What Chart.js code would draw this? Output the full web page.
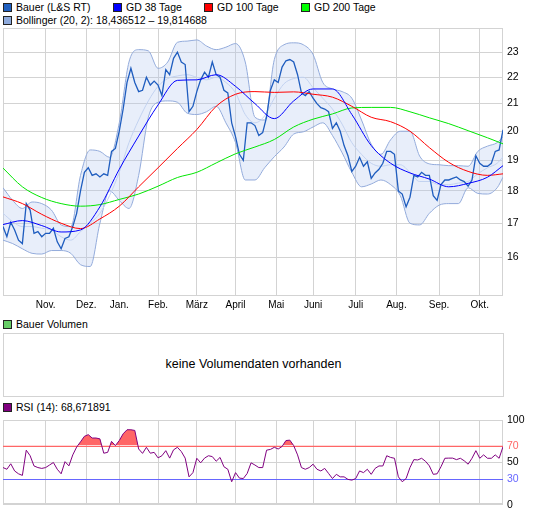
<!DOCTYPE html>
<html>
<head>
<meta charset="utf-8">
<script src="https://cdn.jsdelivr.net/npm/chart.js@4/dist/chart.umd.min.js"></script>
<style>
  body { margin: 0; background: #fff; font-family: "Liberation Sans", Arial, sans-serif; }
  #wrap { position: relative; width: 545px; height: 515px; overflow: hidden; }
  canvas { position: absolute; left: 0; }
  .lg { position: absolute; font-size: 10.5px; line-height: 12px; color: #000; white-space: nowrap; }
  .lg i { display: inline-block; width: 7px; height: 7px; border: 1px solid #222; margin-right: 4px; vertical-align: -1px; }
  #vol { position: absolute; left: 3px; top: 333px; width: 501px; height: 64px; box-sizing: border-box;
         border: 1px solid #d3d3d3; text-align: center; line-height: 60px; font-size: 12.5px; }
</style>
</head>
<body>
<div id="wrap">
  <div class="lg" style="left:3px;top:1px"><i style="background:#2060c0"></i>Bauer (L&amp;S RT)</div>
  <div class="lg" style="left:113px;top:1px"><i style="background:#0000ff"></i>GD 38 Tage</div>
  <div class="lg" style="left:204px;top:1px"><i style="background:#ff0000"></i>GD 100 Tage</div>
  <div class="lg" style="left:301px;top:1px"><i style="background:#00ff00"></i>GD 200 Tage</div>
  <div class="lg" style="left:3px;top:14px"><i style="background:#8eaadc"></i>Bollinger (20, 2): 18,436512 – 19,814688</div>
  <canvas id="kurs" width="545" height="315" style="top:0"></canvas>
  <div class="lg" style="left:3px;top:318px"><i style="background:#66cc66"></i>Bauer Volumen</div>
  <div id="vol">keine Volumendaten vorhanden</div>
  <div class="lg" style="left:3px;top:401px"><i style="background:#800080"></i>RSI (14): 68,671891</div>
  <canvas id="rsi" width="545" height="105" style="top:410px"></canvas>
</div>
<script>
// closing prices, one value every second trading day
const closeStep = 2;
const closes = [
  16.9, 16.6, 17.03, 16.8, 16.5, 16.4, 17.6, 17.4, 16.7, 16.75,
  16.6, 16.7, 16.7, 16.85, 16.45, 16.25, 16.55, 16.6, 16.9, 17.3,
  18.0, 18.6, 18.75, 18.5, 18.55, 18.45, 18.55, 18.5, 19.3, 19.4,
  20.0, 20.8, 21.8, 22.35, 21.8, 21.45, 21.5, 22.0, 21.7, 21.85,
  21.7, 21.3, 22.3, 22.1, 22.75, 23.0, 22.6, 22.5, 20.7, 20.9,
  21.45, 21.9, 22.2, 22.0, 22.6, 22.1, 22.0, 21.5, 21.4, 20.3,
  19.8, 19.2, 19.0, 20.3, 20.3, 20.2, 19.85, 19.95, 20.5, 21.5,
  21.9, 21.8, 22.4, 22.65, 22.7, 22.6, 22.1, 21.4, 21.3, 21.45,
  21.2, 21.0, 20.85, 20.8, 20.7, 20.1, 20.3, 20.0, 19.5, 19.15,
  18.63, 18.8, 19.1, 18.8, 18.95, 18.4, 18.58, 18.7, 18.9, 19.3,
  19.3, 19.2, 18.0, 17.9, 17.5, 17.8, 18.5, 18.45, 18.6, 18.5,
  18.5, 17.85, 17.7, 18.2, 18.35, 18.35, 18.4, 18.45, 18.35, 18.3,
  18.15, 18.35, 19.15, 18.9, 18.8, 18.8, 18.9, 19.3, 19.35, 20.05
];
const rsiValues = [
  44, 42, 48.5, 40, 36.6, 34.7, 64.6, 58, 45.9, 44,
  43, 44, 47, 50, 42, 36.6, 51, 46, 59, 68.3,
  74.5, 81, 83, 79, 79, 78, 61, 62, 75, 70,
  76, 84, 88.8, 88.8, 88, 66, 60.8, 68, 61, 62,
  55.5, 58, 64, 55.2, 65, 68, 63, 55.2, 33, 38,
  55, 49.6, 55.2, 58, 57, 51.5, 56, 45, 42, 27.2,
  38, 31.5, 31, 37, 49.6, 47, 44, 44, 64.6, 65.5,
  68, 66, 69, 76, 76.5, 70, 59, 44, 42, 44,
  48, 42, 40, 43, 37, 31, 36, 33, 33, 30,
  29.1, 31, 40, 38, 42, 36, 43, 45.9, 45.9, 58,
  56, 55, 33, 27.2, 31, 44, 53.4, 53, 55, 51.5,
  46, 36, 36.6, 45, 55, 55.2, 55.2, 53.4, 55, 52,
  48, 55, 64, 55, 59, 55, 55, 59, 55, 68.67
];

// moving averages
const maDays = [0, 10, 20, 30, 40, 50, 60, 70, 80, 90, 100, 110, 120, 130, 140, 150, 160, 170, 180, 190, 200, 210, 220, 230, 240, 250, 258];
const gd38 = [16.96, 17.08, 16.93, 16.74, 16.8, 17.5, 18.7, 19.83, 20.95, 21.88, 21.9, 22.1, 21.65, 21.0, 20.45, 21.1, 21.55, 21.55, 20.6, 19.5, 18.9, 18.58, 18.38, 18.13, 18.24, 18.44, 18.82];
const gd100 = [17.81, 17.6, 17.27, 17.0, 16.84, 17.13, 17.52, 18.13, 18.75, 19.4, 20.06, 20.9, 21.35, 21.45, 21.42, 21.44, 21.35, 21.24, 20.9, 20.5, 20.34, 20.0, 19.43, 18.93, 18.63, 18.5, 18.55];
const gd200 = [18.74, 18.13, 17.79, 17.6, 17.52, 17.57, 17.73, 17.9, 18.15, 18.43, 18.6, 18.91, 19.22, 19.45, 19.71, 20.15, 20.43, 20.62, 20.84, 20.86, 20.86, 20.7, 20.48, 20.27, 20.02, 19.77, 19.56];

// Bollinger (20, 2)
const bbDays = [0, 5, 10, 15, 20, 25, 30, 35, 40, 45, 50, 55, 60, 65, 70, 75, 80, 85, 90, 95, 100, 105, 110, 115, 120, 125, 130, 135, 140, 145, 150, 155, 160, 165, 170, 175, 180, 185, 190, 195, 200, 205, 210, 215, 220, 225, 230, 235, 240, 245, 250, 255, 258];
const bbUpper = [
  18.1, 17.7, 17.45, 17.65, 17.6, 17.4, 16.95, 16.9, 18.5, 19.35,
  19.3, 19.1, 20.3, 22.6, 23.1, 23.05, 22.35, 22.6, 23.4, 23.45,
  23.5, 23.25, 23.1, 23.2, 23.35, 22.6, 20.5, 20.4, 22.7, 23.3,
  23.38, 23.3, 22.9, 21.8, 21.55, 21.45, 21.2, 20.4, 19.55, 19.2,
  19.7, 20.0, 20.0, 19.14, 18.88, 18.85, 18.82, 18.82, 18.8, 19.3,
  19.48, 19.6, 19.81
];
const bbMiddle = [
  17.3, 17.05, 16.9, 16.9, 16.85, 16.8, 16.6, 16.5, 16.75, 17.0,
  17.3, 17.85, 18.6, 19.6, 20.4, 21.1, 21.65, 21.95, 22.05, 22.1,
  22.0, 21.9, 22.0, 21.8, 21.4, 20.6, 20.3, 20.55, 21.2, 21.75,
  21.95, 22.0, 21.6, 21.2, 20.8, 20.25, 19.6, 19.2, 18.9, 18.8,
  18.85, 18.85, 18.6, 18.3, 18.3, 18.2, 18.2, 18.25, 18.3, 18.55,
  18.75, 18.9, 19.12
];
const bbLower = [
  16.5, 16.4, 16.25, 16.12, 16.1, 16.2, 16.2, 16.12, 15.8, 15.75,
  17.0, 18.0, 17.7, 17.45, 18.5, 20.5, 21.05, 21.1, 21.05, 20.65,
  20.6, 20.7, 20.9, 20.3, 19.6, 18.35, 18.35, 18.75, 19.12, 19.45,
  19.9, 19.98, 20.15, 20.3, 19.85, 19.25, 18.6, 18.13, 18.22, 18.35,
  18.2, 17.85, 17.0, 16.95, 17.3, 17.55, 17.6, 17.6, 18.1, 17.92,
  17.9, 18.1, 18.44
];

// axis ticks
const monthDays = [22, 43, 60, 80, 100, 120, 141, 160, 182, 203, 225, 246];
const monthLabels = ['Nov.', 'Dez.', 'Jan.', 'Feb.', 'März', 'April', 'Mai', 'Juni', 'Juli', 'Aug.', 'Sep.', 'Okt.'];
const priceTicks = [16, 17, 18, 19, 20, 21, 22, 23];
const rsiTicks = [0, 30, 50, 70, 100];
const rsiLevels = [70, 30];

const closeDays = closes.map((_, i) => i * closeStep);
const pts = (days, vals) => vals.map((v, i) => ({ x: days[i], y: v }));

Chart.defaults.font.family = '"Liberation Sans", Arial, sans-serif';
Chart.defaults.font.size = 10.5;
Chart.defaults.color = '#000';

const gridGrey = '#d3d3d3';
const levelColor = v => v === 70 ? '#ff6666' : v === 30 ? '#6666ff' : null;

const frame = {
  id: 'frame',
  beforeDatasetsDraw(chart) {
    const a = chart.chartArea, ctx = chart.ctx;
    ctx.save();
    ctx.strokeStyle = gridGrey;
    ctx.lineWidth = 1;
    ctx.strokeRect(Math.round(a.left) + 0.5, Math.round(a.top) + 0.5,
      Math.round(a.width) - 1, Math.round(a.height) - 1);
    ctx.restore();
  }
};

// coloured 70 / 30 lines of the RSI panel
const levels = {
  id: 'levels',
  beforeDatasetsDraw(chart) {
    const a = chart.chartArea, ctx = chart.ctx, y = chart.scales.y;
    ctx.save();
    ctx.lineWidth = 1;
    rsiLevels.forEach(v => {
      const py = Math.round(y.getPixelForValue(v)) + 0.5;
      ctx.strokeStyle = levelColor(v);
      ctx.beginPath();
      ctx.moveTo(a.left, py);
      ctx.lineTo(a.right, py);
      ctx.stroke();
    });
    ctx.restore();
  }
};

const dayAxis = (showLabels) => ({
  type: 'linear',
  min: 0,
  max: 258,
  afterBuildTicks: s => { s.ticks = monthDays.map(v => ({ value: v })); },
  afterFit: s => { s.height = showLabels ? 19 : 9; },
  ticks: {
    display: showLabels,
    autoSkip: false,
    maxRotation: 0,
    padding: 3,
    font: { size: 10 },
    callback: (v, i) => monthLabels[i]
  },
  grid: { color: gridGrey, drawTicks: false },
  border: { display: false }
});

const smooth = { cubicInterpolationMode: 'monotone', pointRadius: 0 };

new Chart(document.getElementById('kurs'), {
  type: 'line',
  data: {
    datasets: [
      { data: pts(bbDays, bbUpper), borderColor: '#93abdb', borderWidth: 1,
        backgroundColor: 'rgba(178,200,240,0.3)', fill: '+1', order: 7, ...smooth },
      { data: pts(bbDays, bbLower), borderColor: '#93abdb', borderWidth: 1, fill: false, order: 6, ...smooth },
      { data: pts(bbDays, bbMiddle), borderColor: '#c2d2f0', borderWidth: 1, fill: false, order: 5, ...smooth },
      { data: pts(closeDays, closes), borderColor: '#1f5dbf', borderWidth: 1.3, fill: false, order: 4, pointRadius: 0 },
      { data: pts(maDays, gd200), borderColor: '#00e600', borderWidth: 1, fill: false, order: 3, ...smooth },
      { data: pts(maDays, gd100), borderColor: '#ff0000', borderWidth: 1, fill: false, order: 2, ...smooth },
      { data: pts(maDays, gd38), borderColor: '#0000ff', borderWidth: 1, fill: false, order: 1, ...smooth }
    ]
  },
  options: {
    responsive: false,
    animation: false,
    layout: { padding: { left: 3, top: 28, right: 0, bottom: 0 } },
    plugins: { legend: { display: false }, tooltip: { enabled: false } },
    scales: {
      x: dayAxis(true),
      y: {
        type: 'logarithmic',
        position: 'right',
        min: 14.95,
        max: 24,
        afterBuildTicks: s => { s.ticks = priceTicks.map(v => ({ value: v })); },
        afterFit: s => { s.width = 42; },
        ticks: { padding: 4, callback: v => String(v) },
        grid: { color: gridGrey, drawTicks: false },
        border: { display: false }
      }
    }
  },
  plugins: [frame]
});

new Chart(document.getElementById('rsi'), {
  type: 'line',
  data: {
    datasets: [{
      data: pts(closeDays, rsiValues),
      borderColor: '#800080',
      borderWidth: 1,
      pointRadius: 0,
      fill: { target: { value: 70 }, above: '#ff6666', below: 'rgba(0,0,0,0)' }
    }]
  },
  options: {
    responsive: false,
    animation: false,
    layout: { padding: { left: 3, top: 7, right: 0, bottom: 0 } },
    plugins: { legend: { display: false }, tooltip: { enabled: false } },
    scales: {
      x: dayAxis(false),
      y: {
        position: 'right',
        min: 0,
        max: 100,
        afterBuildTicks: s => { s.ticks = rsiTicks.map(v => ({ value: v })); },
        afterFit: s => { s.width = 42; },
        ticks: { padding: 4, color: c => levelColor(c.tick.value) || '#000' },
        grid: { color: c => levelColor(c.tick.value) ? 'rgba(0,0,0,0)' : gridGrey, drawTicks: false },
        border: { display: false }
      }
    }
  },
  plugins: [frame, levels]
});
</script>
</body>
</html>
